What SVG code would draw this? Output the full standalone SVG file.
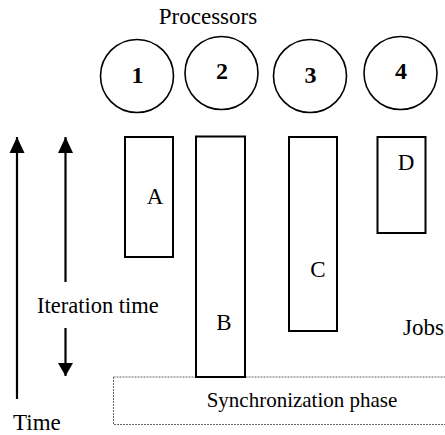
<svg xmlns="http://www.w3.org/2000/svg" width="445" height="435" viewBox="0 0 445 435">
  <style>
    text { font-family: "Liberation Serif", "Times New Roman", serif; fill: #000; }
    .num { font-size: 24px; font-weight: bold; text-anchor: middle; }
    .lbl { font-size: 23px; text-anchor: middle; }
    .proc { fill: #fff; stroke: #000; stroke-width: 1.6; }
    .job { fill: #fff; stroke: #000; stroke-width: 2; }
    .axis { stroke: #000; stroke-width: 2.2; fill: none; }
    .sync { fill: none; stroke: #666; stroke-width: 1; stroke-dasharray: 2 1; }
  </style>
  <defs>
    <marker id="headUp" markerUnits="userSpaceOnUse" markerWidth="16" markerHeight="17" refX="7.5" refY="0" orient="0" overflow="visible">
      <path d="M7.5 0 L15 16 L0 16 Z" fill="#000"/>
    </marker>
    <marker id="headDown" markerUnits="userSpaceOnUse" markerWidth="16" markerHeight="14" refX="7.5" refY="13" orient="0" overflow="visible">
      <path d="M0 0 L15 0 L7.5 13 Z" fill="#000"/>
    </marker>
  </defs>

  <rect width="445" height="435" fill="#fff"/>

  <text class="lbl" x="208" y="24">Processors</text>

  <!-- processors -->
  <g id="proc1">
    <circle class="proc" cx="137" cy="76" r="36.5"/>
    <text class="num" x="137.5" y="83">1</text>
  </g>
  <g id="proc2">
    <circle class="proc" cx="221.5" cy="73" r="36.5"/>
    <text class="num" x="222" y="79">2</text>
  </g>
  <g id="proc3">
    <circle class="proc" cx="310" cy="76" r="36.5"/>
    <text class="num" x="310.5" y="83">3</text>
  </g>
  <g id="proc4">
    <circle class="proc" cx="400.5" cy="73" r="36.5"/>
    <text class="num" x="401" y="79">4</text>
  </g>

  <!-- synchronization phase band -->
  <g id="sync">
    <rect class="sync" x="113.5" y="377" width="345" height="47.5"/>
    <text class="lbl" x="302" y="407" style="font-size:21px">Synchronization phase</text>
  </g>

  <!-- jobs -->
  <g id="jobA">
    <rect class="job" x="125" y="137" width="48" height="120"/>
    <text class="lbl" x="155" y="204">A</text>
  </g>
  <g id="jobB">
    <rect class="job" x="196" y="136.5" width="49" height="240.5"/>
    <text class="lbl" x="224" y="330">B</text>
  </g>
  <g id="jobC">
    <rect class="job" x="289" y="137" width="48" height="194"/>
    <text class="lbl" x="318" y="277">C</text>
  </g>
  <g id="jobD">
    <rect class="job" x="377.5" y="137" width="48" height="96"/>
    <text class="lbl" x="406" y="170">D</text>
  </g>

  <text x="403" y="335" font-size="23">Jobs</text>

  <!-- time axes -->
  <g id="connectors">
    <line class="axis" x1="17" y1="399" x2="17" y2="137" marker-end="url(#headUp)"/>
    <line class="axis" x1="65.5" y1="282" x2="65.5" y2="137" marker-end="url(#headUp)"/>
    <line class="axis" x1="65.5" y1="328" x2="65.5" y2="376" marker-end="url(#headDown)"/>
  </g>

  <text x="37" y="313" font-size="22.5">Iteration time</text>
  <text x="13" y="430" font-size="23">Time</text>
</svg>
